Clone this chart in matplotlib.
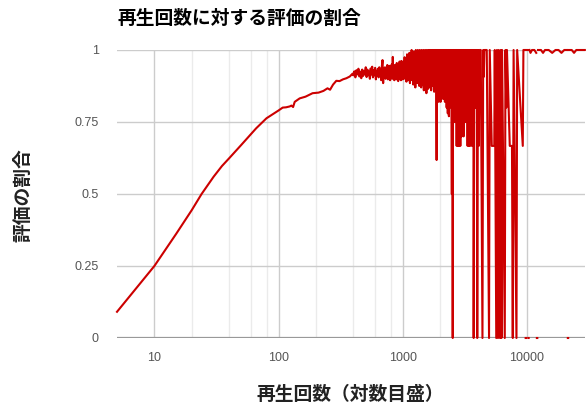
import numpy as np
import matplotlib
matplotlib.use("Agg")
import matplotlib.pyplot as plt
from matplotlib.ticker import FixedLocator, NullFormatter

nan = np.nan

# ---- data (play count vs. ratio of rated videos) ----
views_smooth = [5, 10, 15, 20, 24, 30, 35, 40, 50, 66, 80, 100, 108, 115, 123, 127, 131,
                135, 148, 165, 188, 210, 230, 248, 260, 275, 292, 310, 330, 352, 375, 395]
ratio_smooth = [0.091, 0.250, 0.362, 0.444, 0.500, 0.560, 0.597, 0.624, 0.670, 0.728, 0.763,
                0.790, 0.800, 0.801, 0.804, 0.807, 0.802, 0.820, 0.832, 0.838, 0.850, 0.852,
                0.858, 0.867, 0.862, 0.880, 0.893, 0.892, 0.898, 0.902, 0.908, 0.918]

views_mid = [400, 408, 416, 424, 432, 440, 448, 456, 464, 472,
             480, 488, 496, 504, 512, 520, 528, 536, 544, 552,
             560, 568, 576, 584, 592, 600, 608, 616, 624, 632,
             640, 648, 656, 664, 672, 680, 688, 696, 704, 712,
             720, 728, 736, 744, 752, 760, 768, 776, 784, 792,
             800, 808, 816, 824, 832, 840, 848, 856, 864, 872,
             880, 888, 896, 904, 912, 920, 928, 936, 944, 952,
             960, 968, 976, 984, 992, 1000]
ratio_mid = [0.912, 0.926, 0.905, 0.930, 0.915, 0.935, 0.908, 0.925, 0.902, 0.932,
             0.910, 0.928, 0.915, 0.940, 0.906, 0.932, 0.912, 0.925, 0.900, 0.936,
             0.915, 0.942, 0.905, 0.930, 0.912, 0.938, 0.898, 0.928, 0.910, 0.935,
             0.905, 0.940, 0.915, 0.925, 0.895, 0.945, 0.965, 0.885, 0.935, 0.905,
             0.940, 0.900, 0.930, 0.912, 0.948, 0.898, 0.935, 0.905, 0.945, 0.895,
             0.938, 0.910, 0.950, 0.900, 0.976, 0.905, 0.940, 0.895, 0.948, 0.912,
             0.935, 0.898, 0.955, 0.905, 0.945, 0.892, 0.950, 0.910, 0.960, 0.900,
             0.948, 0.895, 0.962, 0.905, 0.955, 0.898]

views_band = [1012, 1024, 1036, 1048, 1060, 1072, 1084, 1096, 1108, 1120,
              1132, 1144, 1156, 1168, 1180, 1192, 1204, 1216, 1228, 1240,
              1252, 1264, 1276, 1288, 1300, 1312, 1324, 1336, 1348, 1360,
              1372, 1384, 1396, 1408, 1420, 1432, 1444, 1456, 1468, 1480,
              1492, 1504, 1516, 1528, 1540, 1552, 1564, 1576, 1588, 1600,
              1612, 1624, 1636, 1648, 1660, 1672, 1684, 1696, 1708, 1720,
              1732, 1744, 1756, 1768, 1780, 1792, 1804, 1816, 1828, 1840,
              1852, 1864, 1876, 1888, 1900]
ratio_band = [0.960, 0.900, 0.975, 0.905, 0.965, 0.890, 0.985, 0.910, 0.970, 0.895,
              0.990, 0.885, 0.975, 0.905, 1.000, 0.895, 0.980, 0.880, 0.995, 0.910,
              0.975, 0.870, 1.000, 0.900, 0.985, 0.885, 1.000, 0.905, 0.970, 0.875,
              1.000, 0.895, 0.980, 0.870, 1.000, 0.900, 0.990, 0.880, 1.000, 0.860,
              0.985, 0.905, 1.000, 0.875, 0.990, 0.850, 1.000, 0.895, 0.975, 0.865,
              1.000, 0.890, 1.000, 0.870, 0.990, 0.900, 1.000, 0.860, 0.985, 0.895,
              1.000, 0.875, 1.000, 0.890, 0.980, 0.855, 1.000, 0.900, 1.000, 0.870,
              1.000, 0.880, 0.618, 1.000, 0.900]

views_dense = [1912, 1924, 1936, 1948, 1960, 1972, 1984, 1996, 2008, 2020,
               2032, 2044, 2056, 2068, 2080, 2092, 2104, 2116, 2128, 2140,
               2152, 2164, 2176, 2188, 2200, 2212, 2224, 2236, 2248, 2260,
               2272, 2284, 2296, 2308, 2320, 2332, 2344, 2356, 2368, 2380,
               2392, 2404, 2416, 2428, 2440, 2452, 2464, 2476, 2488, 2500,
               2512, 2529, 2546, 2560, 2576, 2592, 2608, 2624, 2640, 2656,
               2672, 2688, 2704, 2720, 2736, 2752, 2768, 2784, 2800, 2816,
               2832, 2848, 2864, 2880, 2896, 2912, 2928, 2944, 2960, 2976,
               2992, 3012, 3032, 3052, 3072, 3092, 3112, 3132, 3152, 3172,
               3192, 3212, 3232, 3252, 3272, 3292, 3312, 3332, 3352, 3372,
               3392, 3412, 3432, 3452, 3472, 3492, 3512, 3532, 3552, 3572,
               3592, 3612, 3632]
ratio_dense = [1, 0.90, 1, 0.82, 1, 0.86, 1, 0.85, 1, 0.82,
               1, 0.91, 1, 0.84, 1, 0.88, 1, 0.83, 1, 0.86,
               1, 0.89, 1, 0.82, 1, 0.84, 1, 0.87, 1, 0.80,
               1, 0.83, 1, 0.78, 1, 0.83, 1, 0.77, 1, 0.81,
               1, 0.80, 1, 0.83, 1, 0.857, 1, 0.78, 0.5, 1,
               0.85, 0.0, 1, 0.83, 1, 0.75, 1, 0.80, 1, 0.75,
               1, 0.80, 1, 0.667, 1, 0.75, 1, 0.667, 1, 0.70,
               1, 0.667, 1, 0.80, 1, 0.667, 1, 0.75, 1, 0.70,
               1, 0.75, 1, 0.80, 1, 0.70, 1, 0.75, 1, 0.80,
               1, 0.75, 1, 0.833, 1, 0.80, 1, 0.667, 1, 0.75,
               1, 0.667, 1, 0.75, 1, 0.667, 1, 0.80, 1, 0.75,
               1, 0.667, 1]

views_sparse = [3652, 3672, 3692, 3710, 3730, 3770, 3800, 3820, 3840, 3890,
                3920, 3950, 3985, 4040, 4098, 4160, 4253, 4390, 4450, 4497,
                4550, 4754, 4960, 5026, 5217, 5465, 5515, 5670, 5745, 5860,
                5940, 6075, 6165, 6245, 6315, 6640, 6725, 6830, 6915, 7285,
                7590, 7702, 7820, 8250, 8355, 9273, 9380]
ratio_sparse = [0.80, 1, 0.75, 1, 0.0, 1, 0.80, 1, 0.80, 1,
                0.80, 1, 0.0, 1, 0.667, 1, 1, 0.0, 1, 0.907,
                1, 1, 0.0, 1, 0.667, 0.667, 1, 0.0, 1, 0.0,
                1, 0.0, 1, 0.0, 1, 0.0, 1, 0.80, 1, 0.667,
                0.667, 0.0, 1, 0.0, 1, 0.667, 1]

views_tail = [9450, 9600, 9700, 9780, 9840, 9900, 9950, 10150, 10220, 10280,
              10340, 10400, 10500, 10700, 11000, 11500, 11900, 11980, 12040, 12140,
              12200, 12300, 13000, 13500, 14000, 15000, 16000, 17000, 18000, 19000,
              20000, 21000, 21300, 21380, 21520, 21600, 21700, 23000, 24000, 25000,
              27000, 29300]
ratio_tail = [1, 1, nan, 0, 0, nan, 1, 1, nan, 0,
              0, nan, 1, 0.99, 1, 1, 0.99, nan, 0, 0,
              nan, 1, 1, 0.99, 1, 1, 0.99, 1, 1, 0.99,
              1, 1, nan, 0, 0, nan, 1, 1, 0.99, 1,
              1, 1]

x_ticks = [10, 100, 1000, 10000]
x_tick_labels = ["10", "100", "1000", "10000"]
x_minor = [20, 40, 60, 80, 200, 400, 600, 800, 2000, 4000, 6000, 8000]
y_ticks = [0, 0.25, 0.5, 0.75, 1]
y_tick_labels = ["0", "0.25", "0.5", "0.75", "1"]

title = "再生回数に対する評価の割合"
x_label = "再生回数（対数目盛）"
y_label = "評価の割合"

views = np.concatenate([views_smooth, views_mid, views_band, views_dense,
                        views_sparse, views_tail]).astype(float)
ratio = np.concatenate([ratio_smooth, ratio_mid, ratio_band, ratio_dense,
                        ratio_sparse, ratio_tail]).astype(float)

# ---- figure ----
plt.rcParams['font.family'] = ['Liberation Sans', 'Noto Sans CJK JP', 'DejaVu Sans']
W, H = 588, 407
fig = plt.figure(figsize=(W / 100, H / 100), dpi=100)
fig.patch.set_facecolor('white')
ax = fig.add_axes([117 / W, 69 / H, 468 / W, 288 / H])

ax.set_xscale('log')
ax.set_xlim(5, 29400)
ax.set_ylim(0, 1)

ax.xaxis.set_major_locator(FixedLocator(x_ticks))
ax.set_xticklabels(x_tick_labels)
ax.xaxis.set_minor_locator(FixedLocator(x_minor))
ax.xaxis.set_minor_formatter(NullFormatter())
ax.set_yticks(y_ticks)
ax.set_yticklabels(y_tick_labels)

ax.grid(which='major', color='#cccccc', linewidth=1.0, zorder=0)
ax.grid(which='minor', axis='x', color='#ebebeb', linewidth=1.0, zorder=0)
ax.set_axisbelow(True)
ax.tick_params(which='both', length=0, labelsize=9, labelcolor='#555555')
ax.tick_params(axis='x', pad=10)
ax.tick_params(axis='y', pad=13)
for s in ax.spines.values():
    s.set_visible(False)
ax.axhline(0, color='#999999', linewidth=1.6, zorder=1)

ax.plot(views, ratio, color='#cc0000', linewidth=1.5, clip_on=False, zorder=3)

cjk = ['Noto Sans CJK JP', 'DejaVu Sans']
fig.text(118 / W, 1 - 18 / H, title, ha='left', va='center', fontsize=13.5,
         fontweight='bold', family=cjk, color='#000000')
fig.text(350 / W, 1 - 394 / H, x_label, ha='center', va='center', fontsize=13.5,
         fontweight='bold', family=cjk, color='#222222')
fig.text(23 / W, 1 - 195 / H, y_label, ha='center', va='center', fontsize=13.5,
         fontweight='bold', family=cjk, rotation=90, color='#222222')

fig.savefig('out.png', dpi=100)
